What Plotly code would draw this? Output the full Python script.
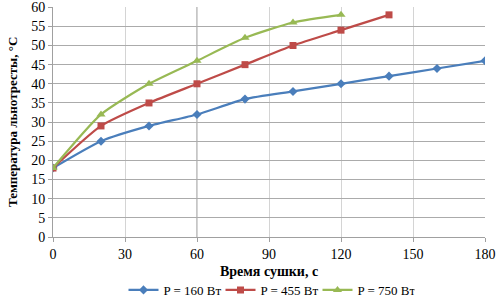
import plotly.graph_objects as go

x_blue = [0, 20, 40, 60, 80, 100, 120, 140, 160, 180]
y_blue = [18, 25, 29, 32, 36, 38, 40, 42, 44, 46]
x_red = [0, 20, 40, 60, 80, 100, 120, 140]
y_red = [18, 29, 35, 40, 45, 50, 54, 58]
x_green = [0, 20, 40, 60, 80, 100, 120]
y_green = [18, 32, 40, 46, 52, 56, 58]
names = ["P = 160 Вт", "P = 455 Вт", "P = 750 Вт"]
x_title = "Время сушки, с"
y_title = "Температура льнотресты, °С"

fig = go.Figure()
fig.add_trace(go.Scatter(x=x_blue, y=y_blue, name=names[0], mode="lines+markers",
                         line=dict(color="#4A7EBB", width=2.2, shape="spline", smoothing=0.6),
                         marker=dict(symbol="diamond", size=7, color="#4A7EBB")))
fig.add_trace(go.Scatter(x=x_red, y=y_red, name=names[1], mode="lines+markers",
                         line=dict(color="#BE4B48", width=2.2, shape="spline", smoothing=0.6),
                         marker=dict(symbol="square", size=7, color="#BE4B48")))
fig.add_trace(go.Scatter(x=x_green, y=y_green, name=names[2], mode="lines+markers",
                         line=dict(color="#98B954", width=2.2, shape="spline", smoothing=0.6),
                         marker=dict(symbol="triangle-up", size=8, color="#98B954")))

font = "Times New Roman, Liberation Serif, serif"
fig.update_layout(
    width=499, height=299,
    margin=dict(l=53, r=14, t=7, b=62, autoexpand=False),
    paper_bgcolor="white", plot_bgcolor="white",
    font=dict(family=font, size=14, color="black"),
    legend=dict(orientation="h", x=0.5, xanchor="center", y=-0.165, yanchor="top",
                font=dict(family=font, size=13), tracegroupgap=0, itemwidth=30,
                entrywidth=52, bgcolor="rgba(0,0,0,0)"),
    xaxis=dict(range=[0, 180], tickvals=[0, 30, 60, 90, 120, 150, 180],
               showgrid=True, gridcolor="#D4D4D4", gridwidth=1, automargin=False,
               zeroline=False, showline=True, linecolor="#A0A0A0",
               ticks="outside", ticklen=4, tickcolor="#A0A0A0",
               tickfont=dict(family=font, size=14)),
    yaxis=dict(range=[0, 60.05], tickvals=list(range(0, 61, 5)),
               showgrid=True, gridcolor="#ABABAB", gridwidth=1, automargin=False,
               zeroline=False, showline=True, linecolor="#A0A0A0",
               ticks="outside", ticklen=4, tickcolor="#A0A0A0",
               tickfont=dict(family=font, size=14)),
    shapes=[dict(type="line", xref="x", yref="paper", x0=60, x1=60, y0=0, y1=1,
                 line=dict(color="#8C8C8C", width=1), layer="below")],
    annotations=[
        dict(text="<b>" + x_title + "</b>", xref="paper", yref="paper", x=0.5, y=-0.15,
             xanchor="center", yanchor="middle", showarrow=False,
             font=dict(family=font, size=14)),
        dict(text="<b>" + y_title + "</b>", xref="paper", yref="paper", x=-0.095, y=0.5,
             xanchor="center", yanchor="middle", showarrow=False, textangle=-90,
             font=dict(family=font, size=13)),
    ],
)
fig.write_html("out.html", config={"displayModeBar": False},
               post_script="document.body.style.margin='0';document.body.style.overflow='hidden';")
